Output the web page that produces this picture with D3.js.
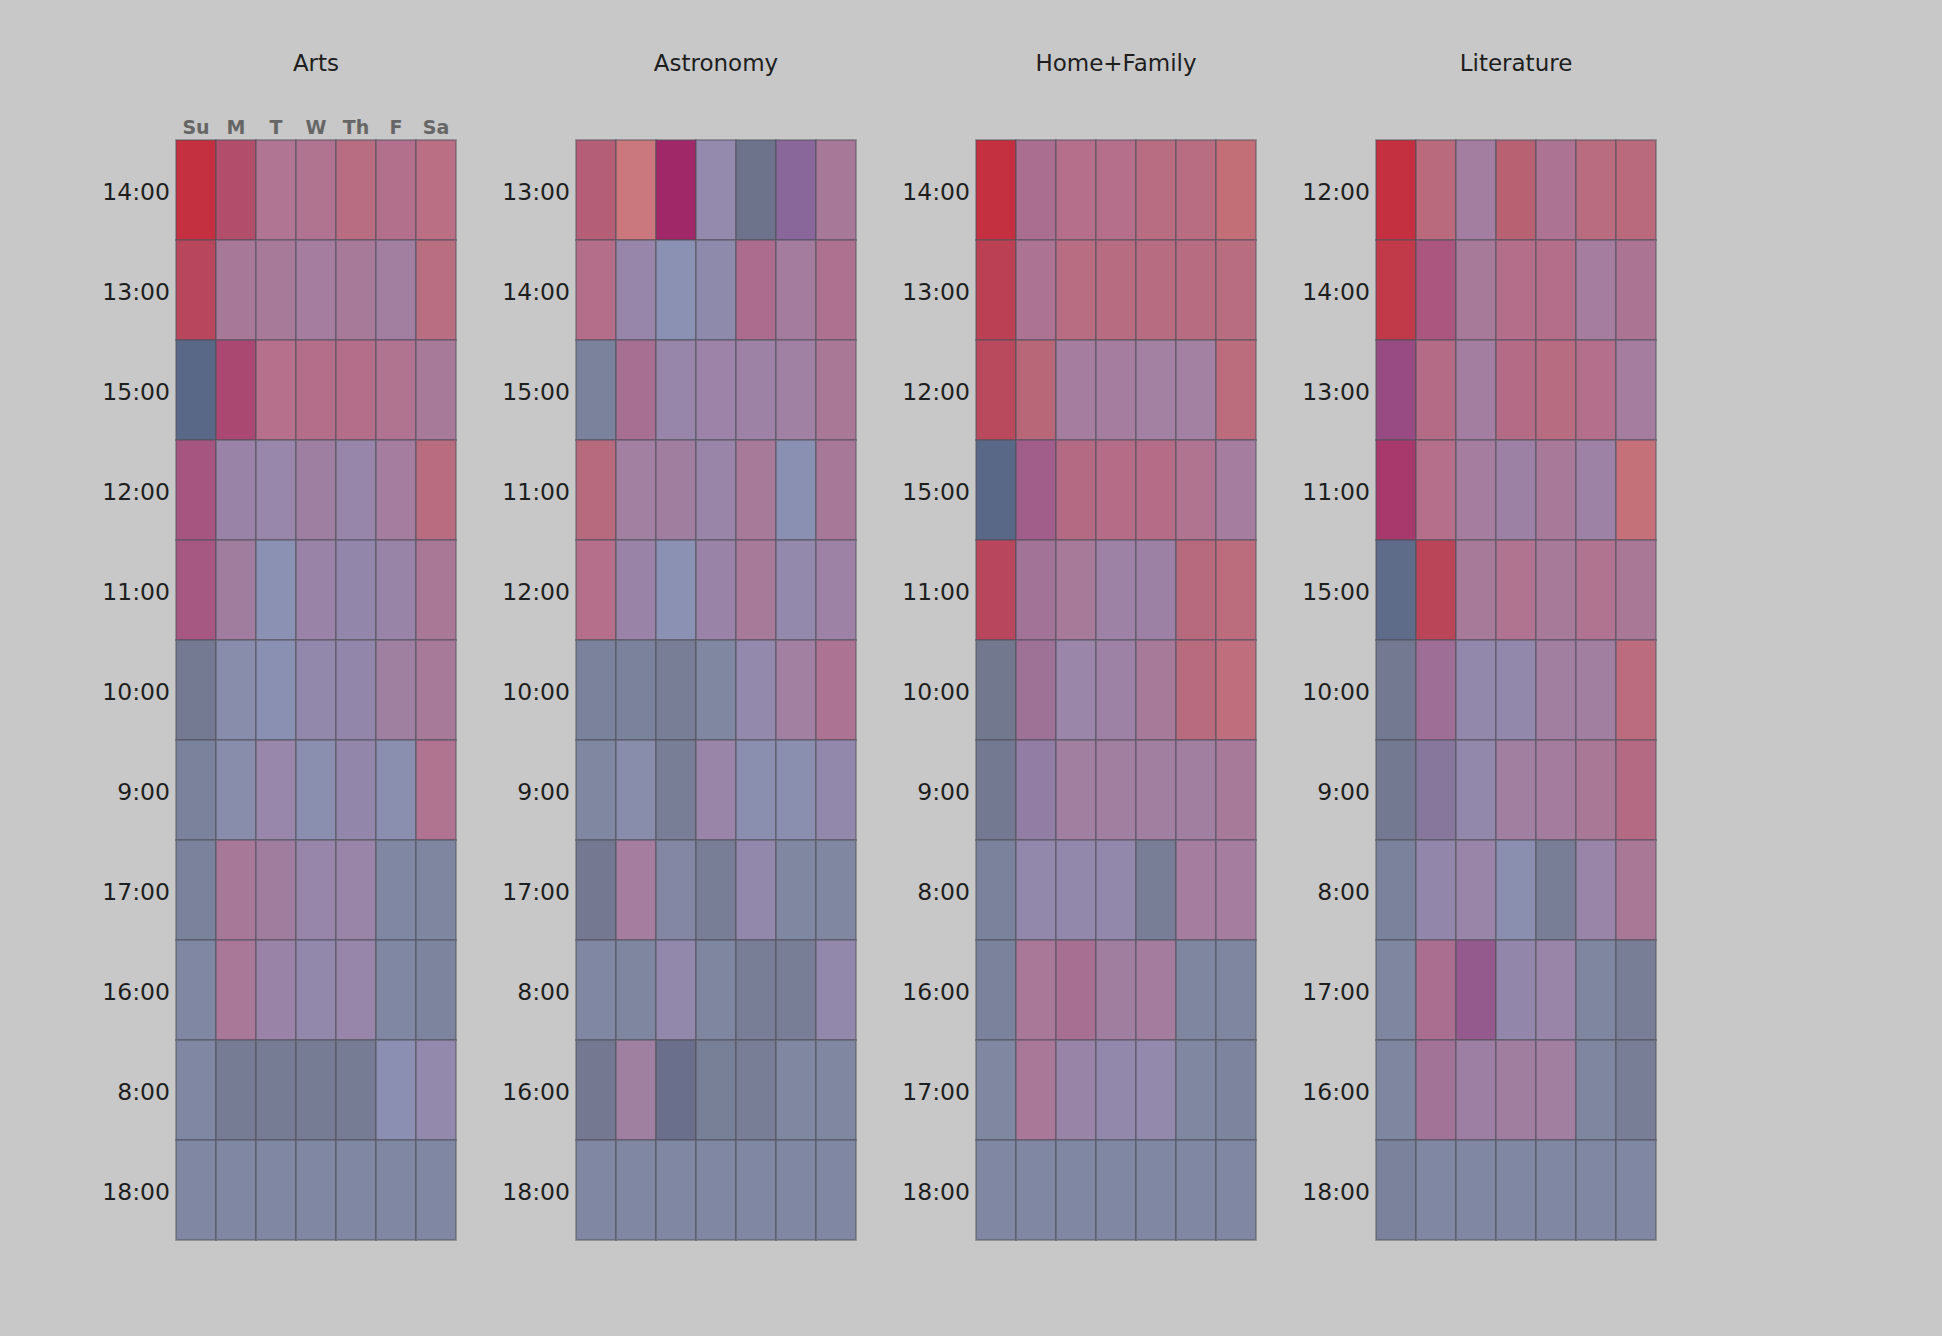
<!DOCTYPE html>
<html>
<head>
<meta charset="utf-8">
<script src="https://cdn.jsdelivr.net/npm/d3@7/dist/d3.min.js"></script>
<style>
  html, body { margin: 0; padding: 0; background: #c8c8c8; }
  svg { display: block; }
</style>
</head>
<body>
<script>
// ---------------- DATA ----------------
const days = ["Su", "M", "T", "W", "Th", "F", "Sa"];
const panelNames = ["Arts", "Astronomy", "Home+Family", "Literature"];

const artsHours = ["14:00","13:00","15:00","12:00","11:00","10:00","9:00","17:00","16:00","8:00","18:00"];
const astronomyHours = ["13:00","14:00","15:00","11:00","12:00","10:00","9:00","17:00","8:00","16:00","18:00"];
const homeHours = ["14:00","13:00","12:00","15:00","11:00","10:00","9:00","8:00","16:00","17:00","18:00"];
const literatureHours = ["12:00","14:00","13:00","11:00","15:00","10:00","9:00","8:00","17:00","16:00","18:00"];

// heat: 0 = blue side, 1 = red side
const artsHeat = [
  [1, .8, .65, .65, .85, .7, .85],
  [.9, .5, .5, .45, .5, .42, .88],
  [0, .65, .75, .75, .75, .65, .5],
  [.55, .3, .28, .38, .28, .45, .88],
  [.55, .4, .03, .3, .2, .28, .55],
  [0, .04, .03, .2, .2, .4, .5],
  [0, .04, .28, .04, .2, .04, .65],
  [0, .5, .4, .28, .3, 0, 0],
  [0, .52, .3, .2, .28, 0, 0],
  [0, 0, 0, 0, 0, .05, .2],
  [0, 0, 0, 0, 0, 0, 0]
];
// depth: 0 = pale, 0.5 = normal, 1 = deep
const artsDepth = [
  [1, .75, .4, .42, .4, .45, .35],
  [.8, .5, .45, .4, .45, .4, .35],
  [1, .8, .4, .45, .45, .42, .45],
  [.72, .45, .35, .45, .38, .4, .4],
  [.7, .5, .1, .45, .38, .45, .45],
  [.68, .25, .15, .35, .38, .4, .45],
  [.55, .25, .35, .15, .38, .15, .45],
  [.55, .5, .5, .38, .38, .45, .5],
  [.45, .5, .45, .35, .38, .45, .52],
  [.45, .65, .65, .65, .65, .15, .3],
  [.45, .45, .45, .45, .45, .45, .45]
];

const astronomyHeat = [
  [.82, 1, .5, .2, 0, .25, .5],
  [.75, .28, .03, .12, .6, .45, .62],
  [0, .5, .28, .35, .35, .4, .55],
  [.88, .42, .4, .3, .5, .03, .5],
  [.75, .3, .03, .3, .5, .2, .35],
  [0, 0, 0, 0, .2, .42, .6],
  [0, .04, 0, .3, .04, .04, .2],
  [.02, .45, .06, 0, .2, 0, 0],
  [0, 0, .2, 0, 0, 0, .2],
  [.02, .4, .02, 0, 0, 0, 0],
  [0, 0, 0, 0, 0, 0, 0]
];
const astronomyDepth = [
  [.6, .05, 1, .28, .8, .9, .5],
  [.45, .38, .12, .3, .55, .45, .5],
  [.55, .55, .38, .35, .38, .35, .45],
  [.45, .38, .45, .38, .45, .15, .5],
  [.42, .45, .12, .45, .45, .3, .38],
  [.55, .55, .62, .48, .3, .38, .5],
  [.48, .25, .62, .38, .15, .15, .35],
  [.72, .4, .45, .62, .35, .48, .48],
  [.45, .5, .35, .5, .62, .62, .35],
  [.72, .4, .85, .6, .62, .48, .48],
  [.45, .45, .45, .45, .45, .45, .45]
];

const homeHeat = [
  [1, .55, .75, .75, .85, .85, 1],
  [.95, .6, .85, .85, .85, .85, .88],
  [.95, .92, .45, .45, .42, .42, .92],
  [0, .45, .8, .78, .78, .65, .45],
  [.9, .45, .5, .35, .35, .88, .92],
  [0, .4, .3, .35, .5, .88, .95],
  [0, .25, .4, .4, .4, .4, .5],
  [0, .2, .2, .2, 0, .45, .45],
  [0, .52, .5, .4, .45, 0, 0],
  [0, .52, .28, .2, .2, 0, 0],
  [0, 0, 0, 0, 0, 0, 0]
];
const homeDepth = [
  [1, .55, .42, .42, .4, .4, .25],
  [.85, .5, .4, .42, .42, .42, .38],
  [.75, .5, .4, .4, .35, .35, .35],
  [1, .7, .5, .45, .45, .45, .4],
  [.8, .55, .45, .38, .42, .45, .35],
  [.72, .6, .35, .38, .45, .42, .3],
  [.7, .6, .42, .42, .42, .42, .45],
  [.55, .35, .33, .33, .62, .4, .4],
  [.55, .5, .55, .45, .42, .5, .5],
  [.48, .5, .45, .35, .3, .48, .52],
  [.45, .45, .45, .45, .45, .45, .45]
];

const literatureHeat = [
  [1, .9, .45, .92, .6, .88, .9],
  [1, .6, .5, .75, .75, .45, .58],
  [.4, .78, .45, .78, .85, .72, .45],
  [.6, .75, .45, .35, .5, .35, 1],
  [0, .95, .5, .65, .5, .65, .55],
  [0, .4, .2, .2, .4, .4, .9],
  [0, .18, .2, .4, .45, .55, .8],
  [0, .2, .3, .04, 0, .3, .55],
  [0, .55, .35, .2, .3, 0, 0],
  [0, .45, .35, .4, .4, 0, 0],
  [0, 0, 0, 0, 0, 0, 0]
];
const literatureDepth = [
  [1, .42, .38, .55, .5, .4, .4],
  [.9, .7, .45, .45, .45, .4, .5],
  [.9, .5, .38, .5, .42, .45, .4],
  [.9, .42, .4, .42, .48, .38, .2],
  [.95, .8, .45, .45, .45, .45, .45],
  [.7, .62, .35, .35, .42, .42, .35],
  [.7, .7, .35, .42, .42, .45, .5],
  [.55, .38, .38, .15, .62, .38, .45],
  [.5, .55, .85, .38, .38, .5, .62],
  [.5, .55, .5, .45, .42, .5, .62],
  [.55, .45, .45, .45, .45, .45, .45]
];

const panels = [
  { name: panelNames[0], hours: artsHours, heat: artsHeat, depth: artsDepth },
  { name: panelNames[1], hours: astronomyHours, heat: astronomyHeat, depth: astronomyDepth },
  { name: panelNames[2], hours: homeHours, heat: homeHeat, depth: homeDepth },
  { name: panelNames[3], hours: literatureHours, heat: literatureHeat, depth: literatureDepth }
];

// ---------------- LAYOUT / STYLE ----------------
const W = 1942, H = 1336;
const gridLeft0 = 176, panelStep = 400;
const cellW = 40, cellH = 100, gridTop = 140;

const hueStops = [0, 0.25, 0.5, 0.75, 1];
const paleRow   = ["#8c94b8", "#9a90b4", "#a888ac", "#bc809c", "#cc7a80"];
const normalRow = ["#7e86a0", "#9484a8", "#a87898", "#b46c88", "#b86470"];
const midRow    = ["#70768c", "#8e72a0", "#a45080", "#b04e70", "#bb4958"];
const deepRow   = ["#5a6888", "#886098", "#a02868", "#ac3058", "#c4303f"];

const mkRow = r => d3.scaleLinear().domain(hueStops).range(r).interpolate(d3.interpolateRgb).clamp(true);
const rowScales = [paleRow, normalRow, midRow, deepRow].map(mkRow);
const depthStops = [0, 0.5, 0.75, 1];
function cellColor(h, d) {
  return d3.scaleLinear().domain(depthStops)
    .range(rowScales.map(s => s(h)))
    .interpolate(d3.interpolateRgb).clamp(true)(d);
}

const svg = d3.select("body").append("svg").attr("width", W).attr("height", H);
svg.append("rect").attr("width", W).attr("height", H).attr("fill", "#c8c8c8");

panels.forEach((p, i) => {
  const x0 = gridLeft0 + i * panelStep;
  const x = d3.scaleBand().domain(days).range([x0, x0 + cellW * days.length]);
  const y = d3.scaleBand().domain(p.hours).range([gridTop, gridTop + cellH * p.hours.length]);
  const g = svg.append("g");

  g.append("text")
    .attr("x", x0 + cellW * days.length / 2).attr("y", 64)
    .attr("text-anchor", "middle").attr("dominant-baseline", "middle")
    .attr("font-family", "DejaVu Sans, sans-serif").attr("font-size", 23)
    .attr("fill", "#1e1e1e").text(p.name);

  if (i === 0) {
    g.selectAll("text.day").data(days).enter().append("text")
      .attr("class", "day")
      .attr("x", d => x(d) + x.bandwidth() / 2).attr("y", 128)
      .attr("text-anchor", "middle").attr("dominant-baseline", "middle")
      .attr("font-family", "DejaVu Sans, sans-serif").attr("font-weight", "bold")
      .attr("font-size", 19).attr("fill", "#666666").text(d => d);
  }

  const cells = [];
  p.hours.forEach((hr, r) => days.forEach((dy, c) => {
    cells.push({ hr, dy, h: p.heat[r][c], d: p.depth[r][c] });
  }));

  g.selectAll("rect.cell").data(cells).enter().append("rect")
    .attr("class", "cell")
    .attr("x", d => x(d.dy)).attr("y", d => y(d.hr))
    .attr("width", x.bandwidth()).attr("height", y.bandwidth())
    .attr("fill", d => cellColor(d.h, d.d))
    .attr("stroke", "rgba(80,80,92,0.45)").attr("stroke-width", 2);

  g.selectAll("text.hour").data(p.hours).enter().append("text")
    .attr("class", "hour")
    .attr("x", x0 - 6).attr("y", d => y(d) + y.bandwidth() / 2 + 3)
    .attr("text-anchor", "end").attr("dominant-baseline", "middle")
    .attr("font-family", "DejaVu Sans, sans-serif").attr("font-size", 23.5)
    .attr("fill", "#1e1e1e").text(d => d);
});
</script>
</body>
</html>
